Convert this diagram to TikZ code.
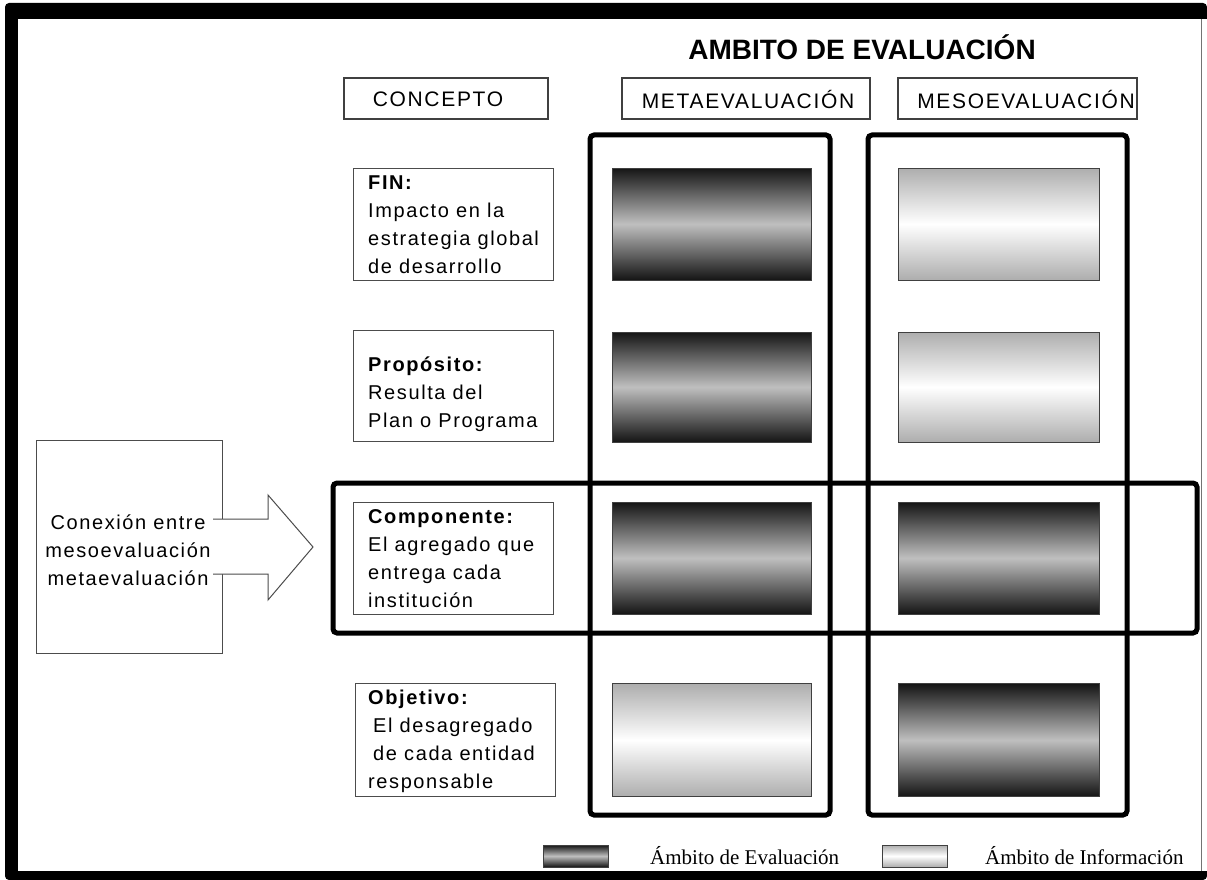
\documentclass[tikz,border=0pt]{standalone}
\usepackage{fontspec}
\setmainfont{Liberation Sans}
\newfontfamily\bodyf[LetterSpace=8]{Liberation Sans}
\newfontfamily\legf{Liberation Serif}
\begin{document}
\begin{tikzpicture}[x=1pt,y=-1pt,
  colbox/.style={draw=black, line width=5pt, rounded corners=4pt, inner sep=0pt},
  hdrbox/.style={draw=black!75, line width=1.1pt, inner sep=0pt},
  hdrtxt/.style={font=\bodyf\fontsize{21}{24}\selectfont, inner sep=0pt},
  conbox/.style={draw=black!70, line width=1pt, fill=white, inner sep=0pt},
  contxt/.style={font=\bodyf\fontsize{20}{28}\selectfont, align=left, inner sep=0pt, anchor=base west},
  darkg/.style={draw=black!75, line width=0.9pt, top color=black!92, bottom color=black!92, middle color=black!25, inner sep=0pt},
  lightg/.style={draw=black!75, line width=0.9pt, top color=black!32, bottom color=black!32, middle color=white, inner sep=0pt},
  legtxt/.style={font=\legf\fontsize{21}{24}\selectfont, anchor=west, inner sep=0pt}
]
\useasboundingbox (0,0) rectangle (1207,880);
% frame
\fill[black, rounded corners=4pt] (5,3) rectangle (1207,880);
\fill[white] (18,19) rectangle (1207,871);
\draw[black!55, line width=0.8pt] (1201,19) -- (1201,871);

% title
\node[font=\fontsize{28}{30}\selectfont\bfseries, inner sep=0pt] (title) at (862,47) {AMBITO DE EVALUACIÓN};

% headers
\node[hdrbox, minimum width=204pt, minimum height=41pt] (hconc) at (446,98.5) {};
\node[hdrtxt] (tconc) at (438,99) {CONCEPTO};
\node[hdrbox, minimum width=248pt, minimum height=41pt] (hmeta) at (746,98.5) {};
\node[hdrtxt] (tmeta) at (748,99) {METAEVALUACIÓN};
\node[hdrbox, minimum width=239pt, minimum height=41pt] (hmeso) at (1017.5,98.5) {};
\node[hdrtxt] (tmeso) at (1026,99) {MESOEVALUACIÓN};

% big frames
\node[colbox, minimum width=240pt, minimum height=680pt] (metacol) at (710,475) {};
\node[colbox, minimum width=259pt, minimum height=680pt] (mesocol) at (997.5,475) {};
\node[colbox, minimum width=864pt, minimum height=150pt] (comprow) at (765,558) {};

% concept boxes
\node[conbox, minimum width=200pt, minimum height=112pt] (bfin) at (453,224) {};
\node[contxt] (tfin) at (368,273) {\textbf{FIN:}\\Impacto en la\\estrategia global\\de desarrollo};
\node[conbox, minimum width=200pt, minimum height=111pt] (bprop) at (453,385.5) {};
\node[contxt] (tprop) at (368,427) {\textbf{Propósito:}\\Resulta del\\Plan o Programa};
\node[conbox, minimum width=200pt, minimum height=112pt] (bcomp) at (453,558) {};
\node[contxt] (tcomp) at (368,607) {\textbf{Componente:}\\El agregado que\\entrega cada\\institución};
\node[conbox, minimum width=200pt, minimum height=113pt] (bobj) at (455,739.5) {};
\node[contxt] (tobj) at (368,788) {\textbf{Objetivo:}\\\hspace*{5pt}El desagregado\\\hspace*{5pt}de cada entidad\\responsable};

% gradient boxes, meta column
\node[darkg, minimum width=199pt, minimum height=112pt] (m1) at (711.5,224) {};
\node[darkg, minimum width=199pt, minimum height=110pt] (m2) at (711.5,387) {};
\node[darkg, minimum width=199pt, minimum height=112pt] (m3) at (711.5,558) {};
\node[lightg, minimum width=199pt, minimum height=113pt] (m4) at (711.5,740) {};
% gradient boxes, meso column
\node[lightg, minimum width=201pt, minimum height=112pt] (s1) at (998.5,224) {};
\node[lightg, minimum width=201pt, minimum height=110pt] (s2) at (998.5,387) {};
\node[darkg, minimum width=201pt, minimum height=112pt] (s3) at (998.5,558) {};
\node[darkg, minimum width=201pt, minimum height=113pt] (s4) at (998.5,740) {};

% connection box and arrow
\node[conbox, minimum width=186pt, minimum height=213pt] (cbox) at (129,546.5) {};
\coordinate (a0) at (213,519);
\coordinate (a1) at (268,519);
\coordinate (a2) at (268,495);
\coordinate (a3) at (313,547);
\coordinate (a4) at (268,600);
\coordinate (a5) at (268,574);
\coordinate (a6) at (213,574);
\fill[white] (a0) -- (a1) -- (a2) -- (a3) -- (a4) -- (a5) -- (a6) -- cycle;
\draw[black!70, line width=1pt, line join=miter] (a0) -- (a1) -- (a2) -- (a3) -- (a4) -- (a5) -- (a6);
\node[font=\bodyf\fontsize{20}{28}\selectfont, align=center, inner sep=0pt] (ctxt) at (128,550) {Conexión entre\\mesoevaluación\\metaevaluación};

% legend
\node[darkg, minimum width=65pt, minimum height=22pt] (ldark) at (575.5,856) {};
\node[legtxt] (ltdark) at (650,856) {Ámbito de Evaluación};
\node[lightg, minimum width=65pt, minimum height=22pt] (llight) at (914.5,856) {};
\node[legtxt] (ltlight) at (985,856) {Ámbito de Información};
\end{tikzpicture}
\end{document}
